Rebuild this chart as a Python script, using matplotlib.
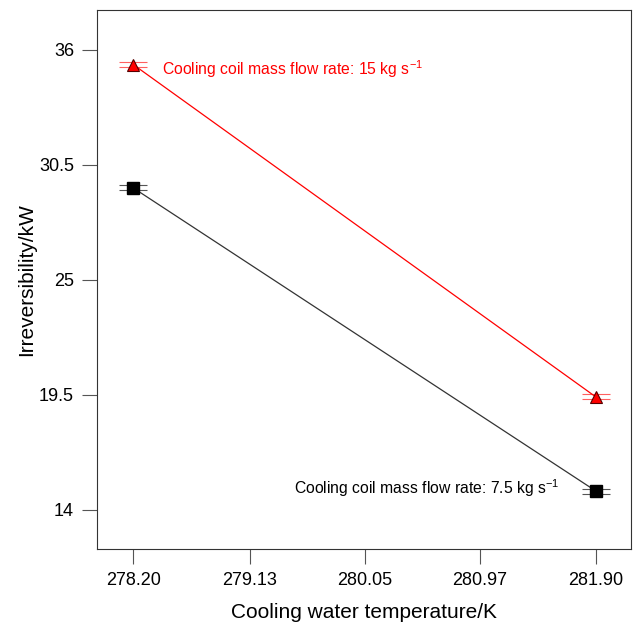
import matplotlib
matplotlib.use("Agg")
import matplotlib.pyplot as plt

# font similar to Helvetica used in the original
plt.rcParams["font.family"] = ["Liberation Sans", "DejaVu Sans"]
plt.rcParams["mathtext.fontset"] = "custom"
plt.rcParams["mathtext.rm"] = "Liberation Sans"

# data
temperature = [278.20, 281.90]
irr_15 = [35.3, 19.4]
irr_7_5 = [29.4, 14.9]
err_15 = [0.12, 0.12]
err_7_5 = [0.12, 0.12]

x_ticks = [278.20, 279.13, 280.05, 280.97, 281.90]
x_tick_labels = ["278.20", "279.13", "280.05", "280.97", "281.90"]
y_ticks = [14, 19.5, 25, 30.5, 36]
y_tick_labels = ["14", "19.5", "25", "30.5", "36"]

fig = plt.figure(figsize=(6.36, 6.23), dpi=100)
ax = fig.add_axes([0.1525, 0.1188, 0.8395, 0.8652])

# black series (7.5 kg/s)
ax.errorbar(temperature, irr_7_5, yerr=err_7_5, fmt="none",
            ecolor="#555555", elinewidth=0.8, capsize=10, capthick=0.8)
ax.plot(temperature, irr_7_5, color="#333333", linewidth=0.9,
        marker="s", markersize=9, markerfacecolor="black",
        markeredgecolor="black")

# red series (15 kg/s)
ax.errorbar(temperature, irr_15, yerr=err_15, fmt="none",
            ecolor="#ff6060", elinewidth=0.8, capsize=10, capthick=0.8)
ax.plot(temperature, irr_15, color="red", linewidth=0.9,
        marker="^", markersize=9, markerfacecolor="red",
        markeredgecolor="#550000", markeredgewidth=0.8)

# annotations
ax.text(278.43, 35.1, "Cooling coil mass flow rate: 15 kg s$^{-1}$",
        color="red", fontsize=11.3, ha="left", va="center")
ax.text(281.61, 15.05, "Cooling coil mass flow rate: 7.5 kg s$^{-1}$",
        color="black", fontsize=11.3, ha="right", va="center")

# axes limits and ticks
ax.set_xlim(277.91, 282.18)
ax.set_ylim(12.13, 37.91)
ax.set_xticks(x_ticks)
ax.set_xticklabels(x_tick_labels)
ax.set_yticks(y_ticks)
ax.set_yticklabels(y_tick_labels)
ax.tick_params(direction="out", length=10.5, width=0.8, labelsize=13,
               color="#555555", pad=6)

for spine in ax.spines.values():
    spine.set_linewidth(0.8)
    spine.set_color("#333333")

ax.set_xlabel("Cooling water temperature/K", fontsize=15, labelpad=10)
ax.set_ylabel("Irreversibility/kW", fontsize=15, labelpad=2)

fig.savefig("out.png", dpi=100)
